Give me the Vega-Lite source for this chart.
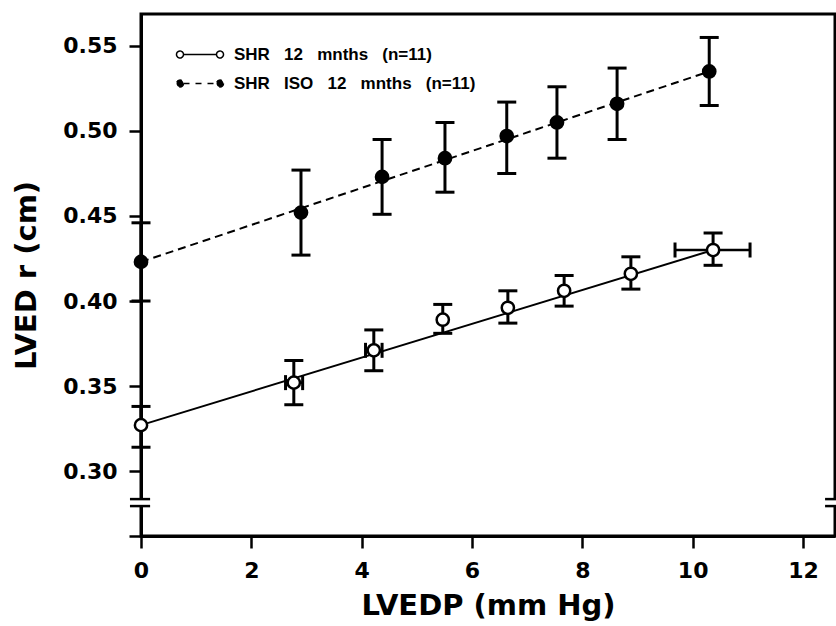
{
  "$schema": "https://vega.github.io/schema/vega-lite/v6.json",
  "width": 694,
  "height": 522,
  "autosize": {"type": "none"},
  "padding": {"left": 141, "top": 14, "right": 1, "bottom": 90},
  "background": "white",
  "config": {
    "view": {"stroke": "black", "strokeWidth": 3},
    "axis": {
      "grid": false,
      "labelFlush": false,
      "domainColor": "black",
      "domainWidth": 3,
      "tickColor": "black",
      "tickWidth": 2.5,
      "tickSize": 12,
      "labelColor": "black",
      "labelFont": "DejaVu Sans",
      "labelFontWeight": "bold",
      "labelFontSize": 22,
      "titleFont": "DejaVu Sans",
      "titleFontWeight": "bold",
      "titleFontSize": 29,
      "titleColor": "black"
    }
  },
  "datasets": {
    "pts": [
      {"series": "SHR 12 mnths (n=11)", "x": 0, "y": 0.327, "ylo": 0.314, "yhi": 0.338},
      {"series": "SHR 12 mnths (n=11)", "x": 2.77, "y": 0.352, "ylo": 0.339, "yhi": 0.365, "xlo": 2.62, "xhi": 2.93},
      {"series": "SHR 12 mnths (n=11)", "x": 4.22, "y": 0.371, "ylo": 0.359, "yhi": 0.383, "xlo": 4.07, "xhi": 4.37},
      {"series": "SHR 12 mnths (n=11)", "x": 5.47, "y": 0.389, "ylo": 0.381, "yhi": 0.398},
      {"series": "SHR 12 mnths (n=11)", "x": 6.65, "y": 0.396, "ylo": 0.387, "yhi": 0.406},
      {"series": "SHR 12 mnths (n=11)", "x": 7.67, "y": 0.406, "ylo": 0.397, "yhi": 0.415},
      {"series": "SHR 12 mnths (n=11)", "x": 8.88, "y": 0.416, "ylo": 0.407, "yhi": 0.426},
      {"series": "SHR 12 mnths (n=11)", "x": 10.37, "y": 0.430, "ylo": 0.421, "yhi": 0.440, "xlo": 9.68, "xhi": 11.04},
      {"series": "SHR ISO 12 mnths (n=11)", "x": 0, "y": 0.423, "ylo": 0.400, "yhi": 0.446},
      {"series": "SHR ISO 12 mnths (n=11)", "x": 2.90, "y": 0.452, "ylo": 0.427, "yhi": 0.477},
      {"series": "SHR ISO 12 mnths (n=11)", "x": 4.37, "y": 0.473, "ylo": 0.451, "yhi": 0.495},
      {"series": "SHR ISO 12 mnths (n=11)", "x": 5.51, "y": 0.484, "ylo": 0.464, "yhi": 0.505},
      {"series": "SHR ISO 12 mnths (n=11)", "x": 6.63, "y": 0.497, "ylo": 0.475, "yhi": 0.517},
      {"series": "SHR ISO 12 mnths (n=11)", "x": 7.54, "y": 0.505, "ylo": 0.484, "yhi": 0.526},
      {"series": "SHR ISO 12 mnths (n=11)", "x": 8.63, "y": 0.516, "ylo": 0.495, "yhi": 0.537},
      {"series": "SHR ISO 12 mnths (n=11)", "x": 10.30, "y": 0.535, "ylo": 0.515, "yhi": 0.555}
    ],
    "fits": [
      {"series": "SHR 12 mnths (n=11)", "x": 0, "y": 0.327},
      {"series": "SHR 12 mnths (n=11)", "x": 10.37, "y": 0.430},
      {"series": "SHR ISO 12 mnths (n=11)", "x": 0, "y": 0.423},
      {"series": "SHR ISO 12 mnths (n=11)", "x": 10.30, "y": 0.535}
    ],
    "gaps": [
      {"x": -0.05, "x2": 0.05, "y": 0.2800, "y2": 0.2830},
      {"x": 12.52, "x2": 12.65, "y": 0.2800, "y2": 0.2830}
    ],
    "breaks": [
      {"x": -0.2, "x2": 0.165, "y": 0.2835},
      {"x": -0.2, "x2": 0.165, "y": 0.2794},
      {"x": 12.4, "x2": 12.6, "y": 0.2835},
      {"x": 12.4, "x2": 12.6, "y": 0.2794}
    ]
  },
  "encoding": {
    "x": {
      "type": "quantitative",
      "scale": {"domain": [0, 12.58], "nice": false, "zero": false},
      "axis": {"title": "LVEDP (mm Hg)", "values": [0, 2, 4, 6, 8, 10, 12], "format": "d", "tickSize": 12, "labelPadding": 12, "titlePadding": 10, "labelFlush": false}
    },
    "y": {
      "type": "quantitative",
      "scale": {"domain": [0.2618, 0.5688], "nice": false, "zero": false},
      "axis": {"title": "LVED r (cm)", "values": [0.2618, 0.30, 0.35, 0.40, 0.45, 0.50, 0.55], "labelExpr": "datum.value < 0.29 ? '' : format(datum.value, '.2f')", "tickSize": 12, "labelPadding": 12, "titlePadding": 21, "labelFlush": false}
    }
  },
  "layer": [
    {
      "data": {"name": "gaps"},
      "mark": {"type": "rect", "fill": "white"},
      "encoding": {
        "x": {"field": "x", "type": "quantitative"},
        "x2": {"field": "x2"},
        "y": {"field": "y", "type": "quantitative"},
        "y2": {"field": "y2"}
      }
    },
    {
      "data": {"name": "breaks"},
      "mark": {"type": "rule", "color": "black", "strokeWidth": 2.5},
      "encoding": {
        "x": {"field": "x", "type": "quantitative"},
        "x2": {"field": "x2"},
        "y": {"field": "y", "type": "quantitative"}
      }
    },
    {
      "data": {"name": "fits"},
      "transform": [{"filter": "datum.series == 'SHR 12 mnths (n=11)'"}],
      "mark": {"type": "line", "color": "black", "strokeWidth": 2},
      "encoding": {
        "x": {"field": "x", "type": "quantitative"},
        "y": {"field": "y", "type": "quantitative"}
      }
    },
    {
      "data": {"name": "fits"},
      "transform": [{"filter": "datum.series == 'SHR ISO 12 mnths (n=11)'"}],
      "mark": {"type": "line", "color": "black", "strokeWidth": 2, "strokeDash": [8, 5]},
      "encoding": {
        "x": {"field": "x", "type": "quantitative"},
        "y": {"field": "y", "type": "quantitative"}
      }
    },
    {
      "data": {"name": "pts"},
      "mark": {"type": "errorbar", "color": "black", "opacity": 1, "ticks": {"size": 19, "thickness": 3, "color": "black", "opacity": 1}, "rule": {"strokeWidth": 3, "color": "black", "opacity": 1}},
      "encoding": {
        "x": {"field": "x", "type": "quantitative"},
        "y": {"field": "ylo", "type": "quantitative"},
        "y2": {"field": "yhi"}
      }
    },
    {
      "data": {"name": "pts"},
      "transform": [{"filter": "isValid(datum.xlo)"}],
      "mark": {"type": "errorbar", "color": "black", "opacity": 1, "ticks": {"size": 15, "thickness": 3, "color": "black", "opacity": 1}, "rule": {"strokeWidth": 2.5, "color": "black", "opacity": 1}},
      "encoding": {
        "y": {"field": "y", "type": "quantitative"},
        "x": {"field": "xlo", "type": "quantitative"},
        "x2": {"field": "xhi"}
      }
    },
    {
      "data": {"name": "pts"},
      "mark": {"type": "point", "shape": "circle", "filled": true, "stroke": "black", "strokeWidth": 2.5, "opacity": 1, "size": 150},
      "encoding": {
        "x": {"field": "x", "type": "quantitative"},
        "y": {"field": "y", "type": "quantitative"},
        "fill": {
          "field": "series",
          "type": "nominal",
          "scale": {"domain": ["SHR 12 mnths (n=11)", "SHR ISO 12 mnths (n=11)"], "range": ["white", "black"]},
          "legend": {
            "title": null,
            "orient": "top-left",
            "offset": 32,
            "padding": 0,
            "symbolType": "M 0.4 0 L 7 0 M 0.4 0 A 0.7 0.7 0 1 1 -1 0 A 0.7 0.7 0 1 1 0.4 0 Z M 8.4 0 A 0.7 0.7 0 1 1 7 0 A 0.7 0.7 0 1 1 8.4 0 Z",
            "symbolSize": 100,
            "symbolStrokeColor": "black",
            "symbolStrokeWidth": 1.5,
            "symbolOpacity": 1,
            "labelFont": "Liberation Sans",
            "labelFontWeight": "bold",
            "labelFontSize": 17,
            "labelColor": "black",
            "labelOffset": 44,
            "labelLimit": 400,
            "rowPadding": 11,
            "labelExpr": "datum.label == 'SHR 12 mnths (n=11)' ? 'SHR\u00a0\u00a0\u00a012\u00a0\u00a0\u00a0mnths\u00a0\u00a0\u00a0(n=11)' : 'SHR\u00a0\u00a0\u00a0ISO\u00a0\u00a0\u00a012\u00a0\u00a0\u00a0mnths\u00a0\u00a0\u00a0(n=11)'",
            "encode": {
              "symbols": {
                "update": {
                  "strokeDash": {"signal": "datum.value === 'SHR ISO 12 mnths (n=11)' ? [6, 6] : [1, 0]"}
                }
              }
            }
          }
        }
      }
    }
  ]
}
